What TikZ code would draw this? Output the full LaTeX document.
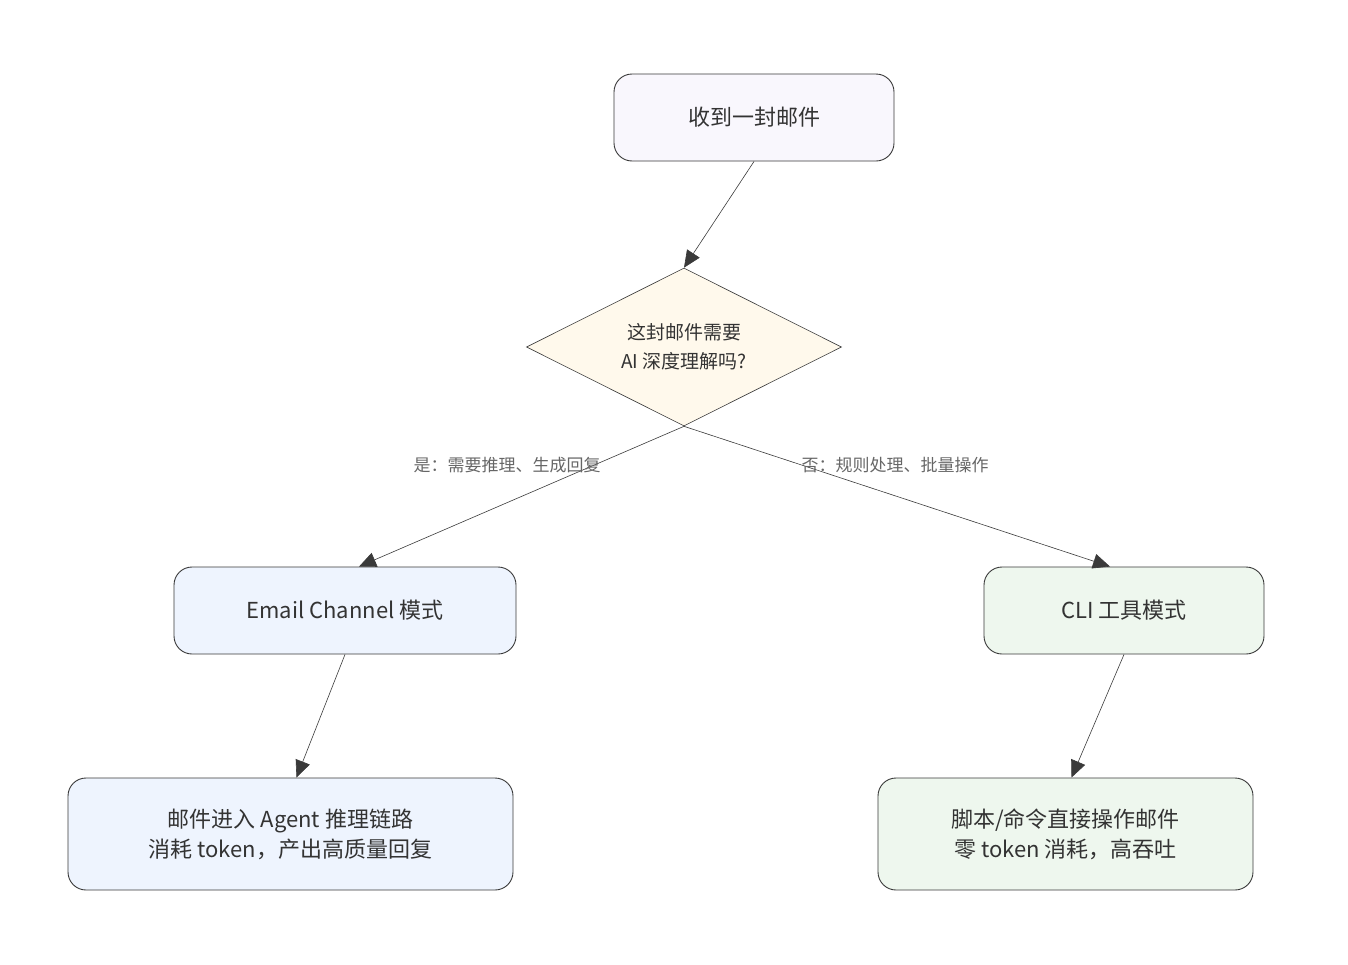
\documentclass[tikz,border=0pt]{standalone}
\usepackage{fontspec}
\setmainfont{Noto Sans CJK SC}
\usetikzlibrary{shapes.geometric,arrows.meta}
\definecolor{bd}{HTML}{3A3A3A}
\definecolor{tx}{HTML}{333333}
\begin{document}
\begin{tikzpicture}[x=1pt,y=-1pt,
  box/.style={draw=bd,line width=0.9pt,rounded corners=18pt,text=tx,font=\fontsize{22}{30}\selectfont,align=center,inner sep=0pt},
  arr/.style={draw=bd,line width=0.6pt,-{Triangle[length=17pt,width=15pt]}},
  lab/.style={text=gray!80!black,font=\fontsize{17}{20}\selectfont}]
\useasboundingbox (0,0) rectangle (1348,964);
\node[box,fill={rgb,255:red,249;green,247;blue,253},minimum width=280pt,minimum height=87pt] (top) at (754,117.5) {收到一封邮件};
\node[diamond,draw=bd,line width=0.6pt,fill={rgb,255:red,255;green,249;blue,236},minimum width=315pt,minimum height=158pt,aspect=2,inner sep=0pt,text=tx,font=\fontsize{19}{29}\selectfont,align=center] (dec) at (684,347) {这封邮件需要\\AI 深度理解吗?};
\node[box,fill={rgb,255:red,238;green,244;blue,254},minimum width=342pt,minimum height=87pt] (email) at (345,610.5) {Email Channel 模式};
\node[box,fill={rgb,255:red,238;green,247;blue,238},minimum width=280pt,minimum height=87pt] (cli) at (1124,610.5) {CLI 工具模式};
\node[box,fill={rgb,255:red,238;green,244;blue,254},minimum width=445pt,minimum height=112pt] (bl) at (290.5,834) {邮件进入 Agent 推理链路\\消耗 token，产出高质量回复};
\node[box,fill={rgb,255:red,238;green,247;blue,238},minimum width=375pt,minimum height=112pt] (br) at (1065.5,834) {脚本/命令直接操作邮件\\零 token 消耗，高吞吐};
\draw[arr] (top.south) -- (dec.north);
\draw[arr] (dec.south) -- ([xshift=14pt]email.north);
\draw[arr] (dec.south) -- ([xshift=-14pt]cli.north);
\draw[arr] (email.south) -- ([xshift=6pt]bl.north);
\draw[arr] (cli.south) -- ([xshift=6pt]br.north);
\node[lab] (l1) at (507,465) {是：需要推理、生成回复};
\node[lab] (l2) at (895,465) {否：规则处理、批量操作};
\end{tikzpicture}
\end{document}
